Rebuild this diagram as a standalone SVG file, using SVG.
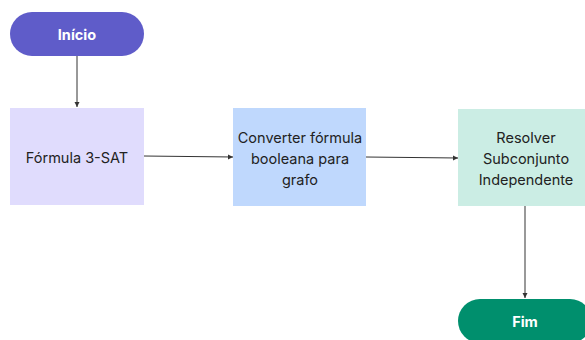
<svg xmlns="http://www.w3.org/2000/svg" width="585" height="340" viewBox="0 0 585 340">
<defs>
<style>
.t{font-family:Inter,"Noto Sans",sans-serif;font-size:14.5px;fill:#222;text-anchor:middle;dominant-baseline:central}
.w{font-family:Inter,"Noto Sans",sans-serif;font-size:14.5px;font-weight:700;fill:#fff;text-anchor:middle;dominant-baseline:central}
.c{stroke:#333;stroke-width:1;fill:none}
</style>
<marker id="a" markerWidth="6" markerHeight="6" refX="5" refY="3" orient="auto" markerUnits="userSpaceOnUse"><path d="M0,0.5 L5,3 L0,5.5Z" fill="#333"/></marker>
</defs>
<rect width="585" height="340" fill="#fff"/>
<g id="connectors">
<line class="c" x1="77" y1="56" x2="77" y2="107" marker-end="url(#a)"/>
<line class="c" x1="144" y1="156" x2="233" y2="157" marker-end="url(#a)"/>
<line class="c" x1="366" y1="157" x2="458" y2="158" marker-end="url(#a)"/>
<line x1="525" y1="206" x2="525" y2="298" stroke="#999" stroke-width="2" marker-end="url(#a)"/>
</g>
<g id="inicio"><rect x="10" y="12" width="134" height="44" rx="22" fill="#5f5cc9"/><text class="w" x="77" y="34">Início</text></g>
<g id="formula"><rect x="10" y="108" width="134" height="97" fill="#e0dcfd"/><text class="t" x="77" y="157">Fórmula 3-SAT</text></g>
<g id="converter"><rect x="233" y="108" width="133" height="98" fill="#bfd8fd"/><text class="t" x="300" y="137">Converter fórmula</text><text class="t" x="300" y="158">booleana para</text><text class="t" x="300" y="179">grafo</text></g>
<g id="resolver"><rect x="458" y="109" width="134" height="97" fill="#cbede4"/><text class="t" x="526" y="137">Resolver</text><text class="t" x="526" y="158">Subconjunto</text><text class="t" x="526" y="179">Independente</text></g>
<g id="fim"><rect x="458" y="299" width="134" height="44" rx="22" fill="#008f6d"/><text class="w" x="525" y="321">Fim</text></g>
</svg>
